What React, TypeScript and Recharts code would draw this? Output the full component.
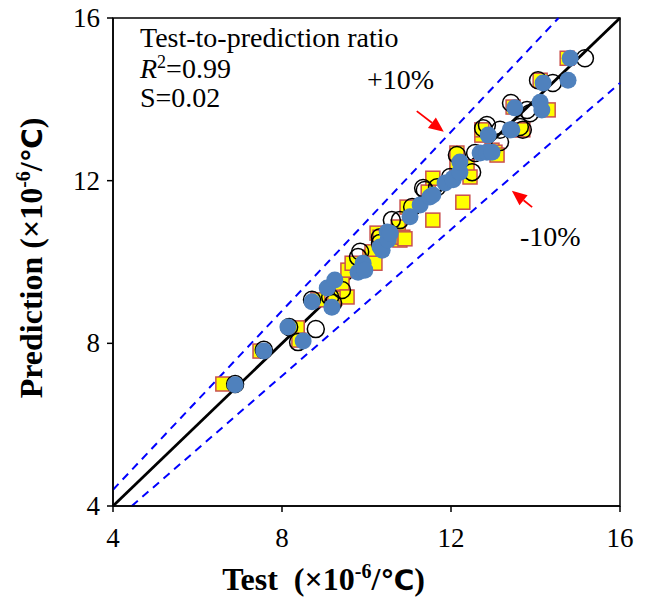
import {
  ScatterChart, Scatter, XAxis, YAxis, ReferenceLine, ReferenceArea,
} from 'recharts'

const TICKS = [4, 8, 12, 16]
const DOMAIN: [number, number] = [4, 16]
const BAND = 0.1

// yellow squares
const squareTest = [6.60, 7.48, 8.36, 8.40, 8.85, 9.25, 9.42, 9.54, 9.56, 9.66, 10.08, 10.13, 10.20, 10.25, 10.32, 10.75, 10.79, 10.86, 10.91, 10.96, 11.46, 11.57, 11.57, 12.14, 12.14, 12.28, 12.38, 12.45, 12.73, 12.73, 12.97, 13.04, 13.09, 13.47, 13.56, 13.70, 14.11, 14.30, 14.75]
const squarePred = [7.00, 7.81, 8.38, 8.08, 9.07, 9.11, 9.48, 9.14, 9.80, 9.97, 10.12, 10.25, 9.97, 10.71, 10.61, 10.86, 10.54, 10.61, 10.57, 11.35, 11.72, 11.03, 12.06, 12.43, 12.68, 11.47, 12.34, 12.09, 13.12, 13.25, 12.75, 12.70, 12.63, 13.81, 13.25, 13.25, 14.47, 13.74, 15.01]

// open circles
const openTest = [6.89, 7.57, 8.17, 8.38, 8.80, 8.71, 9.14, 9.21, 9.42, 9.80, 9.85, 10.32, 10.32, 10.60, 10.79, 11.08, 11.34, 11.38, 11.67, 11.98, 12.14, 12.50, 12.57, 12.76, 12.85, 13.16, 13.16, 13.42, 13.63, 13.70, 13.80, 13.87, 14.06, 14.41, 15.17]
const openPred = [7.00, 7.84, 8.40, 8.03, 8.35, 9.07, 9.14, 8.99, 9.31, 10.12, 10.25, 10.47, 10.61, 11.03, 11.03, 11.35, 11.82, 11.77, 11.84, 12.09, 12.63, 12.21, 12.68, 13.29, 13.37, 12.95, 13.25, 13.91, 13.32, 13.25, 13.74, 13.66, 14.47, 14.40, 15.01]

// blue filled circles
const blueTest = [6.89, 7.57, 8.14, 8.50, 8.71, 9.07, 9.18, 9.25, 9.80, 9.92, 9.96, 10.32, 10.37, 10.49, 10.51, 10.56, 11.03, 11.27, 11.50, 11.57, 11.86, 12.05, 12.05, 12.21, 12.21, 12.69, 12.85, 12.97, 12.88, 13.40, 13.44, 13.51, 14.11, 14.15, 14.18, 14.77, 14.82]
const bluePred = [6.98, 7.81, 8.40, 8.06, 9.02, 9.36, 8.89, 9.56, 9.75, 9.97, 9.80, 10.37, 10.29, 10.74, 10.54, 10.71, 11.11, 11.40, 11.60, 11.65, 11.94, 12.06, 12.02, 12.21, 12.46, 12.68, 12.70, 12.70, 13.12, 13.25, 13.25, 13.79, 13.93, 13.74, 14.40, 14.47, 15.01]

const zip = (xs: number[], ys: number[]) => xs.map((x, i) => ({ test: x, pred: ys[i] }))
const squares = zip(squareTest, squarePred)
const opens = zip(openTest, openPred)
const blues = zip(blueTest, bluePred)

const SERIF = '"Liberation Serif", "Times New Roman", serif'

const Square = (p: any) => (
  <rect x={p.cx - 7} y={p.cy - 7} width={14} height={14} fill="#FFFF00" stroke="#C9504F" strokeWidth={1.5} />
)
const OpenCircle = (p: any) => (
  <circle cx={p.cx} cy={p.cy} r={8.5} fill="none" stroke="#000" strokeWidth={1.5} />
)
const BlueCircle = (p: any) => (
  <circle cx={p.cx} cy={p.cy} r={8.5} fill="#4F81BD" />
)

const Arrow = (p: any) => {
  const { x1, y1, x2, y2 } = p
  const a = Math.atan2(y2 - y1, x2 - x1)
  const L = 15, W = 6.5
  const bx = x2 - Math.cos(a) * L
  const by = y2 - Math.sin(a) * L
  const nx = -Math.sin(a) * W
  const ny = Math.cos(a) * W
  return (
    <g>
      <line x1={x1} y1={y1} x2={bx} y2={by} stroke="#FF0000" strokeWidth={1.8} />
      <polygon points={`${x2},${y2} ${bx + nx},${by + ny} ${bx - nx},${by - ny}`} fill="#FF0000" />
    </g>
  )
}

const XTick = ({ x, y, payload }: any) => (
  <text x={x} y={y} dy={33} textAnchor="middle" fontFamily={SERIF} fontSize={27} fill="#000">
    {payload.value}
  </text>
)
const YTick = ({ x, y, payload }: any) => (
  <text x={x - 5} y={y} dy={9} textAnchor="end" fontFamily={SERIF} fontSize={27} fill="#000">
    {payload.value}
  </text>
)

const XLabel = ({ viewBox }: any) => (
  <text x={viewBox.x + viewBox.width / 2 - 43} y={viewBox.y + 84} textAnchor="middle"
    fontFamily={SERIF} fontWeight="bold" fontSize={32} fill="#000" style={{ whiteSpace: 'pre' }}>
    Test  (×10<tspan dy={-12} fontSize={20}>-6</tspan><tspan dy={12}>/</tspan>
    <tspan fontFamily="DejaVu Sans" fontSize={28}>℃</tspan>)
  </text>
)
const YLabel = ({ viewBox }: any) => (
  <text transform={`translate(42,${viewBox.y + viewBox.height / 2 - 4}) rotate(-90)`} textAnchor="middle"
    fontFamily={SERIF} fontWeight="bold" fontSize={32} fill="#000">
    Prediction (×10<tspan dy={-12} fontSize={20}>-6</tspan><tspan dy={12}>/</tspan>
    <tspan fontFamily="DejaVu Sans" fontSize={28}>℃</tspan>)
  </text>
)

export default function App() {
  return (
    <div style={{ position: 'absolute', left: 0, top: 0, width: 646, height: 598, background: '#fff' }}>
      <ScatterChart width={646} height={598} margin={{ top: 18, right: 26, bottom: 0, left: 0 }}>
        <XAxis type="number" dataKey="test" domain={DOMAIN} ticks={TICKS} height={92} tickSize={6}
          axisLine={{ stroke: '#000', strokeWidth: 1.5 }} tickLine={{ stroke: '#000', strokeWidth: 1.5 }}
          tick={XTick} label={XLabel} allowDataOverflow />
        <YAxis type="number" dataKey="pred" domain={DOMAIN} ticks={TICKS} width={113} tickSize={6}
          axisLine={{ stroke: '#000', strokeWidth: 1.5 }} tickLine={{ stroke: '#000', strokeWidth: 1.5 }}
          tick={YTick} label={YLabel} allowDataOverflow />
        <ReferenceArea x1={4} x2={16} y1={4} y2={16} fill="none" stroke="#000" strokeWidth={1.5} fillOpacity={0} />
        <ReferenceLine segment={[{ x: 4, y: 4 * (1 + BAND) }, { x: 16 / (1 + BAND), y: 16 }]}
          stroke="#0000FF" strokeWidth={2} strokeDasharray="8 6" />
        <ReferenceLine segment={[{ x: 4 / (1 - BAND), y: 4 }, { x: 16, y: 16 * (1 - BAND) }]}
          stroke="#0000FF" strokeWidth={2} strokeDasharray="8 6" />
        <ReferenceLine segment={[{ x: 4, y: 4 }, { x: 16, y: 16 }]} stroke="#000" strokeWidth={2.8} />
        <ReferenceLine segment={[{ x: 11.19, y: 13.71 }, { x: 11.83, y: 13.2 }]} shape={Arrow} />
        <ReferenceLine segment={[{ x: 13.92, y: 11.35 }, { x: 13.44, y: 11.75 }]} shape={Arrow} />
        <Scatter data={squares} shape={Square} isAnimationActive={false} />
        <Scatter data={opens} shape={OpenCircle} isAnimationActive={false} />
        <Scatter data={blues} shape={BlueCircle} isAnimationActive={false} />
      </ScatterChart>
      <svg width={646} height={598} style={{ position: 'absolute', left: 0, top: 0, pointerEvents: 'none' }}>
        <g fontFamily={SERIF} fontSize={28} fill="#000">
          <text x={140} y={47}>Test-to-prediction ratio</text>
          <text x={140} y={78}>
            <tspan fontStyle="italic">R</tspan><tspan dy={-10} fontSize={18}>2</tspan><tspan dy={10}>=0.99</tspan>
          </text>
          <text x={140} y={107}>S=0.02</text>
          <text x={367} y={89}>+10%</text>
          <text x={520} y={246}>-10%</text>
        </g>
      </svg>
    </div>
  )
}
